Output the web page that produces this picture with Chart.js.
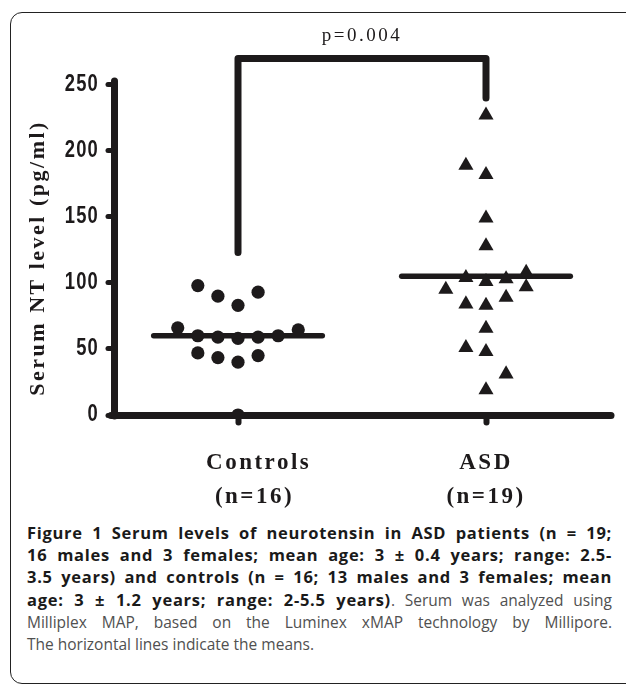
<!DOCTYPE html>
<html>
<head>
<meta charset="utf-8">
<script src="https://cdn.jsdelivr.net/npm/chart.js@4.4.0/dist/chart.umd.min.js"></script>
<style>
  html, body { margin: 0; padding: 0; background: #fff; }
  body { width: 626px; height: 686px; position: relative; overflow: hidden; }
  .frame {
    position: absolute; left: 10px; top: 12px; width: 640px; height: 672px;
    border: 1.6px solid #222; border-radius: 12px; box-sizing: border-box;
  }
  .plot { position: absolute; left: 0; top: 0; width: 626px; height: 520px; }
  .caption {
    position: absolute; left: 27px; top: 522px; width: 585px;
    font-family: "Open Sans", sans-serif; font-size: 15.5px; line-height: 22.2px;
    color: #505050;
  }
  .caption b { color: #1a1a1a; font-weight: 700; font-size: 16.5px; letter-spacing: 0.7px; }
  .caption .j { text-align: justify; text-align-last: justify; white-space: nowrap; }
</style>
</head>
<body>
<div class="frame"></div>
<div class="plot"><canvas id="chart" width="626" height="520"></canvas></div>
<div class="caption">
  <div class="j"><b>Figure 1 Serum levels of neurotensin in ASD patients (n = 19;</b></div>
  <div class="j"><b>16 males and 3 females; mean age: 3 ± 0.4 years; range: 2.5-</b></div>
  <div class="j"><b>3.5 years) and controls (n = 16; 13 males and 3 females; mean</b></div>
  <div class="j"><b>age: 3 ± 1.2 years; range: 2-5.5 years)</b>. Serum was analyzed using</div>
  <div class="j">Milliplex MAP, based on the Luminex xMAP technology by Millipore.</div>
  <div>The horizontal lines indicate the means.</div>
</div>
<script>
// groups on the x axis
const groups = ['Controls', 'ASD'];
const groupSizes = [16, 19];

// serum NT level (pg/ml)
const controlsValues = [98, 90, 83, 93, 66, 60, 59, 58, 59, 60, 64.5, 47, 43.5, 40, 45, 0];
const controlsColumns = [-2, -1, 0, 1, -3, -2, -1, 0, 1, 2, 3, -2, -1, 0, 1, 0];

const asdValues = [227, 189, 182, 149, 128, 104, 101, 103, 108, 95, 97, 89, 84, 83, 65.5, 51, 48, 31, 19];
const asdColumns = [0, -1, 0, 0, 0, -1, 0, 1, 2, -2, 2, 1, -1, 0, 0, -1, 0, 1, 0];

const groupMeans = [60, 105];
const yTicks = [0, 50, 100, 150, 200, 250];

// significance bracket: left foot, top, right foot
const bracketLevels = [123, 270, 240];
const pValueLabel = 'p=0.004';

const INK = '#1d1a1b';
const jitterStep = 0.081;   // one dot width in x units
const meanHalfWidth = 0.34;

function toPoints(group, values, columns) {
    return values.map((v, i) => ({ x: group + columns[i] * jitterStep, y: v }));
}

function meanLine(group, mean) {
    return {
        type: 'line',
        data: [{ x: group - meanHalfWidth, y: mean }, { x: group + meanHalfWidth, y: mean }],
        borderColor: INK,
        borderWidth: 5.5,
        borderCapStyle: 'round',
        pointRadius: 0,
        fill: false
    };
}

// round line ends and spaced lettering, as in the original figure;
// the y tick numbers are narrow and tightly spaced
const figureStyle = {
    id: 'figureStyle',
    beforeDraw(chart) {
        chart.ctx.lineCap = 'round';
        chart.ctx.letterSpacing = '2.5px';
        const y = chart.scales.y;
        if (!y._narrowLabels) {
            const drawLabels = y.drawLabels;
            y.drawLabels = function (area) {
                const c = this.ctx;
                const anchor = this.right - this.options.grid.tickLength - this.options.ticks.padding;
                c.save();
                c.letterSpacing = '1.5px';
                c.translate(anchor, 0);
                c.scale(0.8, 1);
                c.translate(-anchor, 0);
                drawLabels.call(this, area);
                c.restore();
            };
            y._narrowLabels = true;
        }
    }
};

const labelPads = [5, 0];
const sizePads = [4, 0];
const nb = '\u00a0';

const ctx = document.getElementById('chart').getContext('2d');
new Chart(ctx, {
    type: 'scatter',
    data: {
        datasets: [
            {
                type: 'line',
                data: [
                    { x: 1, y: bracketLevels[0] },
                    { x: 1, y: bracketLevels[1] },
                    { x: 2, y: bracketLevels[1] },
                    { x: 2, y: bracketLevels[2] }
                ],
                borderColor: INK,
                borderWidth: 7,
                borderCapStyle: 'round',
                borderJoinStyle: 'round',
                pointRadius: 0,
                fill: false,
                clip: false
            },
            meanLine(1, groupMeans[0]),
            meanLine(2, groupMeans[1]),
            {
                label: groups[0],
                data: toPoints(1, controlsValues, controlsColumns),
                pointStyle: 'circle',
                pointRadius: 6.6,
                backgroundColor: INK,
                borderWidth: 0
            },
            {
                label: groups[1],
                data: toPoints(2, asdValues, asdColumns),
                pointStyle: 'triangle',
                pointRadius: 8.7,
                backgroundColor: INK,
                borderWidth: 0
            }
        ]
    },
    options: {
        responsive: false,
        animation: false,
        layout: { padding: { left: 0, right: 16, top: 0, bottom: 0 } },
        plugins: {
            legend: { display: false },
            tooltip: { enabled: false },
            title: {
                display: true,
                text: pValueLabel,
                fullSize: false,
                color: INK,
                font: { family: 'Liberation Serif', size: 19, weight: 'normal', lineHeight: 1.2 },
                padding: { top: 25, bottom: 37 }
            }
        },
        scales: {
            x: {
                type: 'linear',
                min: 0.5,
                max: 2.5,
                afterBuildTicks: (s) => { s.ticks = [{ value: 1 }, { value: 2 }]; },
                afterFit: (s) => { s.height = 105; },
                grid: { drawOnChartArea: false, drawTicks: true, tickLength: 7.5, tickWidth: 6, tickColor: INK },
                border: { display: true, width: 7, color: INK },
                ticks: {
                    padding: 23,
                    color: INK,
                    font: { family: 'Liberation Serif', weight: 'bold', size: 23, lineHeight: 1.5 },
                    callback: (v) => {
                        const i = Math.round(v) - 1;
                        return [nb.repeat(labelPads[i]) + groups[i], nb.repeat(sizePads[i]) + '(n=' + groupSizes[i] + ')'];
                    }
                }
            },
            y: {
                min: 0,
                max: 250,
                afterBuildTicks: (s) => { s.ticks = yTicks.map(v => ({ value: v })); },
                afterFit: (s) => { s.width = 114; },
                grid: { drawOnChartArea: false, drawTicks: true, tickLength: 6, tickWidth: 5, tickColor: INK },
                border: { display: true, width: 7, color: INK },
                ticks: {
                    padding: 9,
                    color: INK,
                    font: { family: "'Liberation Sans', Arial, sans-serif", weight: 'bold', size: 23 }
                },
                title: {
                    display: true,
                    text: 'Serum NT level (pg/ml)' + nb + nb,
                    color: INK,
                    font: { family: 'Liberation Serif', weight: 'bold', size: 22, lineHeight: 1.2 },
                    padding: { top: 25, bottom: 0 }
                }
            }
        }
    },
    plugins: [figureStyle]
});
</script>
</body>
</html>
